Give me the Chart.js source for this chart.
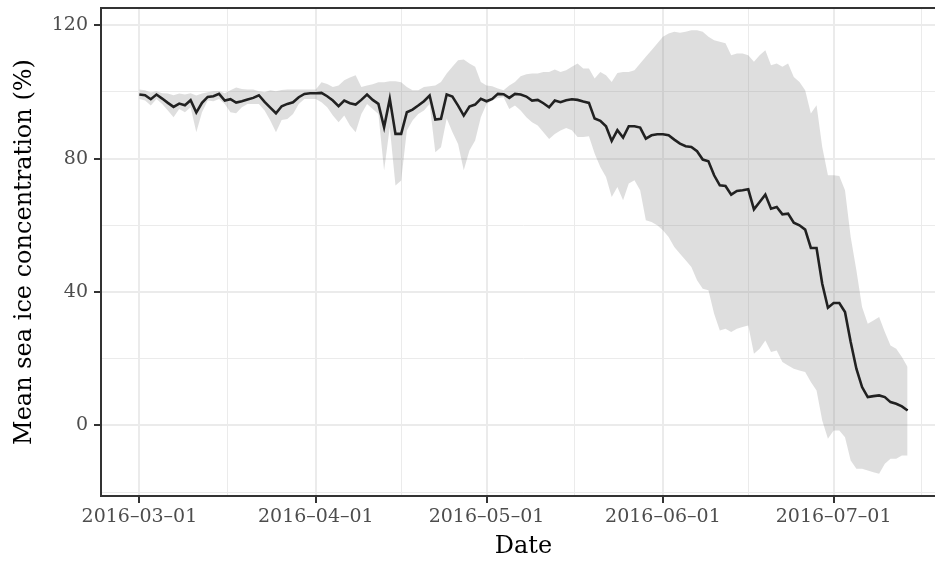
<!DOCTYPE html>
<html>
<head>
<meta charset="utf-8">
<script src="https://cdn.jsdelivr.net/npm/chart.js@4.4.1/dist/chart.umd.min.js"></script>
<style>
  html, body { margin: 0; padding: 0; background: #fff; overflow: hidden; }
  #wrap { width: 935px; height: 563px; overflow: hidden; }
  canvas { display: block; }
</style>
</head>
<body>
<div id="wrap"><canvas id="iceChart" width="960" height="563"></canvas></div>
<script>
// daily series, first value is 2016-03-01
let startDate = "2016-03-01";

let meanIce = [
  99.2, 99.0, 97.8, 99.2, 98.0, 96.7, 95.5, 96.5, 96.0, 97.5,
  93.8, 96.7, 98.5, 98.7, 99.4, 97.4, 97.8, 96.8, 97.2, 97.7,
  98.2, 99.0, 97.0, 95.3, 93.6, 95.7, 96.4, 96.9, 98.4, 99.4,
  99.6, 99.6, 99.7, 98.7, 97.4, 95.7, 97.4, 96.6, 96.2, 97.6,
  99.2, 97.6, 96.4, 89.4, 97.9, 87.4, 87.4, 93.9, 94.7, 95.9,
  97.2, 98.9, 91.7, 91.9, 99.2, 98.6, 95.9, 92.9, 95.6, 96.2,
  97.9, 97.2, 97.9, 99.4, 99.3, 98.2, 99.4, 99.2, 98.6, 97.4,
  97.6, 96.6, 95.4, 97.4, 96.9, 97.5, 97.8, 97.6, 97.1, 96.7,
  92.0, 91.3, 89.7, 85.3, 88.5, 86.3, 89.7, 89.7, 89.3, 86.0,
  87.0, 87.3, 87.3, 87.0, 85.7, 84.5, 83.7, 83.5, 82.2, 79.7,
  79.2, 75.0, 72.0, 71.8, 69.2, 70.3, 70.5, 70.8, 64.8, 67.0,
  69.2, 65.0, 65.5, 63.3, 63.5, 60.8, 60.0, 58.7, 53.2, 53.2,
  42.5, 35.3, 36.7, 36.7, 34.0, 25.0, 17.0, 11.5, 8.5, 8.8,
  9.0, 8.5, 7.0, 6.5, 5.7, 4.5
];

let upperIce = [
  100.7, 100.5, 99.8, 100.2, 99.6, 99.5, 99.0, 99.5, 99.2, 99.6,
  98.9, 99.5, 99.9, 100.2, 100.3, 99.6, 100.5, 101.3, 100.9, 100.7,
  100.7, 100.2, 99.9, 100.5, 100.2, 100.6, 100.7, 100.7, 100.7, 100.7,
  100.7, 100.7, 102.9, 102.4, 101.5, 101.9, 103.5, 104.3, 105.0, 101.5,
  101.9, 102.3, 102.9, 102.9, 103.2, 103.2, 102.9, 101.5, 100.5, 100.5,
  101.5, 101.7, 101.9, 103.0, 105.5, 107.5, 109.5, 109.7, 108.5, 107.5,
  103.0, 101.9, 101.7, 101.0, 100.5, 101.9, 103.0, 104.7, 105.3, 105.5,
  105.5, 106.0, 106.0, 106.7, 106.0, 106.5, 107.5, 108.5, 107.0, 107.0,
  104.0, 106.0, 105.0, 103.0, 105.7, 106.0, 106.0, 106.5, 108.5, 110.5,
  112.5, 114.5, 116.5, 117.5, 118.0, 117.7, 118.0, 118.5, 118.5, 118.0,
  116.5, 115.5, 115.0, 114.6, 111.0, 111.5, 111.5, 111.0, 109.0, 111.0,
  112.5, 108.0, 108.5, 107.5, 108.5, 104.5, 103.0, 100.5, 93.5, 96.0,
  83.5, 75.0, 75.0, 74.8, 70.5, 56.5, 46.5, 35.5, 30.5, 31.5,
  32.5, 28.0, 24.0, 23.0, 20.5, 17.5
];

let lowerIce = [
  97.9, 97.4, 95.9, 97.9, 96.4, 94.4, 92.4, 94.9, 93.9, 95.4,
  87.9, 93.9, 97.4, 97.2, 97.9, 96.4, 93.9, 93.6, 95.4, 96.4,
  96.4, 96.4, 94.4, 91.4, 87.9, 91.6, 91.9, 93.4, 96.4, 97.9,
  97.9, 97.9, 96.9, 95.4, 92.9, 90.9, 92.9, 89.9, 87.9, 93.4,
  96.4, 94.9, 93.4, 76.4, 89.4, 71.9, 73.4, 88.4, 91.4, 93.4,
  94.4, 96.4, 81.9, 83.4, 92.0, 88.0, 84.4, 76.5, 82.4, 85.4,
  92.4, 96.4, 97.4, 98.2, 98.4, 94.9, 95.9, 94.4, 92.4, 90.9,
  89.9, 87.9, 85.9, 87.4, 88.4, 89.2, 88.5, 86.5, 86.5, 86.7,
  81.5, 77.5, 74.5, 68.5, 71.5, 67.5, 72.5, 73.5, 70.5, 61.5,
  61.0, 60.0, 58.5, 56.5, 53.5, 51.5, 49.5, 47.5, 43.5, 41.0,
  40.5, 33.5, 28.5, 29.0, 28.0, 29.0, 29.5, 30.0, 21.5, 23.0,
  25.5, 22.0, 22.5, 19.0, 18.0, 17.0, 16.5, 16.0, 13.0, 10.5,
  1.5, -4.0, -1.5, -1.5, -3.5, -10.5, -13.0, -13.0, -13.5, -14.0,
  -14.5, -11.5, -10.0, -10.0, -9.0, -9.0
];

// month breaks (first and last only used for the minor grid)
let breakDates = ["2016-02-01", "2016-03-01", "2016-04-01", "2016-05-01", "2016-06-01", "2016-07-01", "2016-08-01"];
let yMajor = [0, 40, 80, 120];
let yMinor = [-20, 20, 60, 100];

function dayOf(s) {
  return (Date.parse(s) - Date.parse(startDate)) / 86400000;
}

let n = meanIce.length;
let xMin = -0.05 * (n - 1), xMax = (n - 1) * 1.05;
let yLo = Math.min(...lowerIce), yHi = Math.max(...upperIce);
let yMin = yLo - 0.05 * (yHi - yLo), yMax = yHi + 0.05 * (yHi - yLo);

let breakDays = breakDates.map(dayOf);
let xMajor = breakDays.filter(d => d >= xMin && d <= xMax);
let xMinor = [];
for (let i = 0; i < breakDays.length - 1; i++) {
  let m = (breakDays[i] + breakDays[i + 1]) / 2;
  if (m >= xMin && m <= xMax) xMinor.push(m);
}
let xLabels = {};
breakDates.forEach(s => { xLabels[dayOf(s)] = s.replace(/-/g, "\u2013"); });

function pts(arr) { return arr.map((v, i) => ({ x: i, y: v })); }

let isMajorX = v => xMajor.includes(v);
let isMajorY = v => yMajor.includes(v);

let panelBorder = {
  id: "panelBorder",
  afterDatasetsDraw(chart) {
    let a = chart.chartArea, c = chart.ctx;
    c.save();
    c.strokeStyle = "#333333";
    c.lineWidth = 2;
    c.strokeRect(a.left, a.top, a.right - a.left, a.bottom - a.top);
    c.restore();
  }
};

Chart.defaults.font.family = "'DejaVu Serif', serif";

let ctx = document.getElementById("iceChart").getContext("2d");

let iceChart = new Chart(ctx, {
  type: "line",
  data: {
    datasets: [
      {
        data: pts(upperIce),
        borderWidth: 0,
        pointRadius: 0,
        fill: "+1",
        backgroundColor: "rgba(127,127,127,0.26)"
      },
      {
        data: pts(lowerIce),
        borderWidth: 0,
        pointRadius: 0,
        fill: false
      },
      {
        data: pts(meanIce),
        borderColor: "#000000",
        borderWidth: 2.6,
        pointRadius: 0,
        fill: false,
        tension: 0
      }
    ]
  },
  options: {
    responsive: false,
    animation: false,
    devicePixelRatio: 1,
    layout: { padding: { left: 0, top: 8, right: 14, bottom: 0 } },
    plugins: { legend: { display: false }, tooltip: { enabled: false } },
    scales: {
      x: {
        type: "linear",
        min: xMin,
        max: xMax,
        afterBuildTicks: s => { s.ticks = xMajor.concat(xMinor).sort((a, b) => a - b).map(v => ({ value: v })); },
        afterFit: s => { s.height = 67; s.paddingLeft = 0; s.paddingRight = 0; },
        ticks: {
          autoSkip: false,
          maxRotation: 0,
          padding: 3,
          color: "#4d4d4d",
          font: { size: 19 },
          callback: v => isMajorX(v) ? xLabels[v] : ""
        },
        grid: {
          color: "#ebebeb",
          lineWidth: c => isMajorX(c.tick.value) ? 2 : 1,
          tickLength: 7,
          tickWidth: 2,
          tickColor: c => isMajorX(c.tick.value) ? "#333333" : "rgba(0,0,0,0)"
        },
        border: { display: false },
        title: {
          display: true,
          text: "Date",
          color: "#000000",
          font: { size: 24 },
          padding: { top: 0, bottom: 2 }
        }
      },
      y: {
        min: yMin,
        max: yMax,
        afterBuildTicks: s => { s.ticks = yMinor.concat(yMajor).sort((a, b) => a - b).map(v => ({ value: v })); },
        afterFit: s => { s.width = 101; s.paddingTop = 0; s.paddingBottom = 0; },
        ticks: {
          padding: 6,
          color: "#4d4d4d",
          font: { size: 19 },
          callback: v => isMajorY(v) ? String(v) : ""
        },
        grid: {
          color: "#ebebeb",
          lineWidth: c => isMajorY(c.tick.value) ? 2 : 1,
          tickLength: 7,
          tickWidth: 2,
          tickColor: c => isMajorY(c.tick.value) ? "#333333" : "rgba(0,0,0,0)"
        },
        border: { display: false },
        title: {
          display: true,
          text: "Mean sea ice concentration (%)",
          color: "#000000",
          font: { size: 24 },
          padding: { top: 10, bottom: 0 }
        }
      }
    }
  },
  plugins: [panelBorder]
});
</script>
</body>
</html>
